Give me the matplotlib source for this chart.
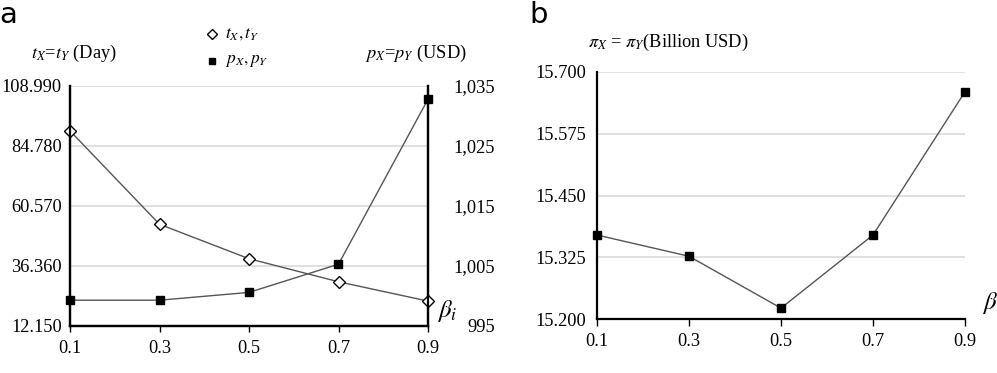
import matplotlib
matplotlib.use("Agg")
import matplotlib.pyplot as plt
import numpy as np

plt.rcParams['font.family'] = ['Liberation Serif', 'DejaVu Serif']
plt.rcParams['mathtext.fontset'] = 'stix'

beta = [0.1, 0.3, 0.5, 0.7, 0.9]
t_days = [90.9, 53.2, 39.3, 30.0, 22.2]
p_usd = [999.3, 999.3, 1000.6, 1005.3, 1032.8]
profit = [15.370, 15.327, 15.222, 15.370, 15.660]

left_ticks = [12.150, 36.360, 60.570, 84.780, 108.990]
right_ticks = [995, 1005, 1015, 1025, 1035]
b_ticks = [15.200, 15.325, 15.450, 15.575, 15.700]
x_ticks = [0.1, 0.3, 0.5, 0.7, 0.9]

W, H = 997, 373
fig = plt.figure(figsize=(W / 100, H / 100), dpi=100)

def box(l, r, t, b):
    return [l / W, 1 - b / H, (r - l) / W, (b - t) / H]

line_col = '#555555'
grid_col = '#dddddd'
fs = 13.2

# ---------- panel a ----------
ax = fig.add_axes(box(70, 428, 86, 326))
ax2 = ax.twinx()
ax.set_xlim(0.1, 0.9)
ax.set_ylim(left_ticks[0], left_ticks[-1])
ax2.set_ylim(right_ticks[0], right_ticks[-1])
ax.set_yticks(left_ticks)
ax.set_yticklabels([f"{v:.3f}" for v in left_ticks])
ax2.set_yticks(right_ticks)
ax2.set_yticklabels([f"{v:,}" for v in right_ticks])
for lab in ax2.get_yticklabels():
    lab.set_ha('right')
ax.set_xticks(x_ticks)
ax.set_xticklabels([f"{v:.1f}" for v in x_ticks])
ax.grid(axis='y', color=grid_col, lw=1.3)
ax.set_axisbelow(True)
for a in (ax, ax2):
    a.spines['top'].set_visible(False)
    for s in ('left', 'right', 'bottom'):
        a.spines[s].set_linewidth(1.6)
        a.spines[s].set_color('black')
ax.tick_params(axis='y', length=0, pad=6, labelsize=fs)
ax2.tick_params(axis='y', length=0, pad=48, labelsize=fs)
ax.tick_params(axis='x', length=4, width=1.0, direction='out', pad=6, labelsize=fs)

ax.plot(beta, t_days, color=line_col, lw=1.0, marker='D', ms=6,
        mfc='white', mec='black', mew=1.0, clip_on=False, zorder=5)
ax2.plot(beta, p_usd, color=line_col, lw=1.0, marker='s', ms=6,
         mfc='black', mec='black', clip_on=False, zorder=5)

fig.text(74 / W, 1 - 53 / H, r"$t_X$=$t_Y$ (Day)", ha='center', va='center', fontsize=fs)
fig.text(416 / W, 1 - 53 / H, r"$p_X$=$p_Y$ (USD)", ha='center', va='center', fontsize=fs)
fig.text(447 / W, 1 - 311 / H, r"$\beta_i$", ha='center', va='center', fontsize=18)

# legend (manual)
fig.lines.append(plt.Line2D([212 / W], [1 - 34 / H], transform=fig.transFigure,
                            marker='D', ms=5, mfc='white', mec='black', ls='none'))
fig.lines.append(plt.Line2D([212 / W], [1 - 61 / H], transform=fig.transFigure,
                            marker='s', ms=5, mfc='black', mec='black', ls='none'))
fig.text(225 / W, 1 - 34 / H, r"$t_X, t_Y$", ha='left', va='center', fontsize=12.5)
fig.text(225 / W, 1 - 61 / H, r"$p_X, p_Y$", ha='left', va='center', fontsize=12.5)

fig.text(8 / W, 1 - 15 / H, "a", ha='center', va='center', fontsize=21,
         family='DejaVu Sans')

# ---------- panel b ----------
bx = fig.add_axes(box(597, 965, 72, 319))
bx.set_xlim(0.1, 0.9)
bx.set_ylim(b_ticks[0], b_ticks[-1])
bx.set_yticks(b_ticks)
bx.set_yticklabels([f"{v:.3f}" for v in b_ticks])
bx.set_xticks(x_ticks)
bx.set_xticklabels([f"{v:.1f}" for v in x_ticks])
bx.grid(axis='y', color=grid_col, lw=1.3)
bx.set_axisbelow(True)
bx.spines['top'].set_visible(False)
bx.spines['right'].set_visible(False)
for s in ('left', 'bottom'):
    bx.spines[s].set_linewidth(1.6)
bx.tick_params(axis='y', length=0, pad=8, labelsize=fs)
bx.tick_params(axis='x', length=5, width=1.0, direction='out', pad=5, labelsize=fs)
bx.plot(beta, profit, color=line_col, lw=1.0, marker='s', ms=6,
        mfc='black', mec='black', clip_on=False, zorder=5)

fig.text(668 / W, 1 - 42 / H, r"$\pi_X$ = $\pi_Y$(Billion USD)", ha='center', va='center',
         fontsize=13.2)
fig.text(982 / W, 1 - 303 / H, r"$\beta_i$", ha='left', va='center', fontsize=18)
fig.text(539 / W, 1 - 15 / H, "b", ha='center', va='center', fontsize=21,
         family='DejaVu Sans')

fig.savefig("out.png", dpi=100)
